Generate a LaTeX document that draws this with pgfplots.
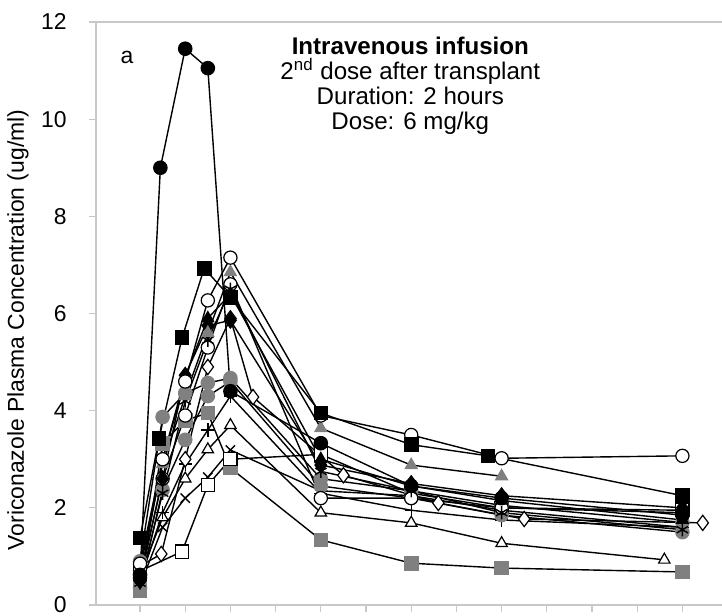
\documentclass[border=0pt]{standalone}
\usepackage{pgfplots}
\pgfplotsset{compat=1.18}
\usepackage{fontspec}
\setmainfont{Liberation Sans}
\definecolor{mgray}{RGB}{128,128,128}
\definecolor{axgray}{RGB}{200,200,200}
\begin{document}
\fontsize{11.5}{13}\selectfont
\begin{tikzpicture}
\path[use as bounding box] (-48bp,-5.5bp) rectangle (313bp,302.5bp);
\begin{axis}[
  at={(0,0)}, anchor=south west,
  scale only axis, width=313bp, height=291.5bp,
  xmin=-0.974, xmax=12.876, ymin=0, ymax=12,
  axis x line*=bottom, axis y line*=left,
  axis line style={-, draw=axgray, line width=0.6bp},
  xtick={0,1,...,12}, xticklabels={},
  ytick={0,2,4,6,8,10,12}, yticklabels={0,2,4,6,8,10,12},
  tick align=outside, major tick length=3.5bp,
  tick style={draw=axgray, line width=0.6bp},
  yticklabel style={font=\fontsize{11.5}{13}\selectfont, inner sep=0pt, xshift=-11bp},
  clip=false,
  every axis plot/.append style={line width=0.7bp, black, mark size=3.3bp},
]
\draw[axgray, line width=0.6bp] (rel axis cs:0,1) -- (rel axis cs:1,1);
% S10 gray square
\addplot[mark=square*, mark options={fill=mgray, draw=mgray}] coordinates {(0,0.3) (0.5,3.33) (1,3.8) (1.5,3.95) (2,2.82) (4,1.34) (6,0.86) (8,0.76) (12,0.68)};
% S11 open triangle
\addplot[mark=triangle*, mark options={fill=white, draw=black, line width=0.6bp}] coordinates {(0,0.6) (0.5,1.8) (1,2.6) (1.5,3.2) (2,3.7) (4,1.9) (6,1.69) (8,1.27) (11.6,0.93)};
% S12 x
\addplot[mark=x, mark options={draw=black}] coordinates {(0,0.4) (0.5,1.6) (1,2.2) (1.5,2.63) (2,3.19) (4,2.35) (6,2.25) (8,1.95) (12,1.6)};
% S13 plus
\addplot[mark=+, mark options={draw=black}] coordinates {(0,0.5) (0.5,1.9) (1,2.9) (1.5,3.6) (2,4.3) (4,2.3) (6,1.95) (8,1.75) (12,1.6)};
% S9 open square
\addplot[mark=square*, mark options={fill=white, draw=black, line width=0.6bp}] coordinates {(0,0.7) (0.93,1.1) (1.5,2.47) (2,3.0) (4,3.1) (6,2.3) (8,2.0) (12,1.95)};
% S8 open diamond
\addplot[mark=diamond*, mark options={fill=white, draw=black, line width=0.6bp, mark size=3.8bp}] coordinates {(0,0.8) (0.47,1.05) (1,3.0) (1.5,4.9) (2,5.9) (2.5,4.28) (4.5,2.67) (6.6,2.1) (8.5,1.77) (12.45,1.69)};
% S7 gray circle
\addplot[mark=*, mark options={fill=mgray, draw=mgray}] coordinates {(0,0.9) (0.5,3.87) (1,4.36) (1.5,4.57) (2,4.67) (4,2.6) (6,2.35) (8,2.05) (12,1.7)};
% S16 gray circle 2
\addplot[mark=*, mark options={fill=mgray, draw=mgray}] coordinates {(0,0.35) (0.5,2.37) (1,3.4) (1.5,4.3) (2,4.6) (4,2.45) (6,2.2) (8,1.85) (12,1.5)};
% S15 open circle 2
\addplot[mark=*, mark options={fill=white, draw=black, line width=0.6bp}] coordinates {(0,0.55) (0.5,2.6) (1,3.9) (1.5,5.3) (2,6.6) (4,2.2) (6,2.2) (8,2.0) (12,1.9)};
% S14 black triangle
\addplot[mark=triangle*, mark options={fill=black}] coordinates {(0,0.55) (0.5,3.0) (1,4.7) (1.5,5.9) (2,6.4) (4,3.0) (6,2.45) (8,2.15) (12,1.75)};
% S6 asterisk
\addplot[mark=asterisk, mark options={draw=black}] coordinates {(0,0.45) (0.5,2.3) (1,4.2) (1.5,5.45) (2,6.5) (4,2.75) (6,2.35) (8,1.9) (12,1.55)};
% S5 black diamond
\addplot[mark=diamond*, mark options={fill=black, mark size=3.8bp}] coordinates {(0,0.5) (0.5,2.6) (1,4.73) (1.5,5.75) (2,5.86) (4,2.88) (6,2.5) (8,2.25) (12,2.0)};
% S4 gray triangle
\addplot[mark=triangle*, mark options={fill=mgray, draw=mgray}] coordinates {(0,0.75) (0.5,2.9) (1,4.3) (1.5,5.6) (2,6.85) (4,3.64) (6,2.88) (8,2.65)};
% S3 open circle
\addplot[mark=*, mark options={fill=white, draw=black, line width=0.6bp}] coordinates {(0,0.85) (0.5,3.0) (1,4.6) (1.5,6.27) (2,7.15) (4,3.9) (6,3.5) (8,3.02) (12,3.07)};
% S2 black square
\addplot[mark=square*, mark options={fill=black}] coordinates {(0,1.38) (0.42,3.43) (0.93,5.5) (1.42,6.93) (2,6.33) (4,3.95) (6,3.3) (7.7,3.07) (12,2.25)};
% S1 black circle
\addplot[mark=*, mark options={fill=black}] coordinates {(0,0.62) (0.45,9.0) (1,11.45) (1.5,11.05) (2,4.4) (4,3.33) (6,2.45) (8,2.2) (12,1.85)};
\node at (axis cs:-0.29,11.28) {a};
\node[anchor=north, align=center, inner sep=0pt, font=\fontsize{12.1}{12.4}\selectfont] at (axis cs:5.98,11.69)
  {\bfseries Intravenous infusion\\2\textsuperscript{nd} dose after transplant\\Duration: 2 hours\\Dose: 6 mg/kg};
\node[rotate=90] at (rel axis cs:-0.1246,0.4717) {Voriconazole Plasma Concentration (ug/ml)};
\end{axis}
\end{tikzpicture}
\end{document}
